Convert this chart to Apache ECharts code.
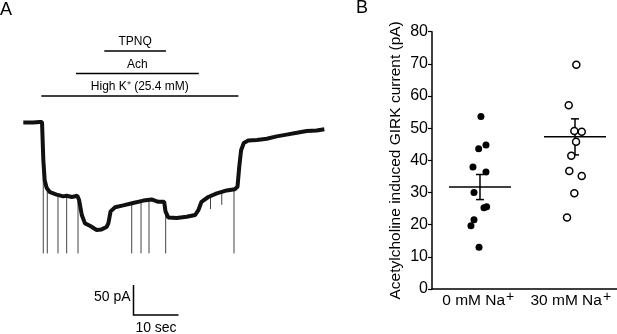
<!DOCTYPE html>
<html>
<head>
<meta charset="utf-8">
<script src="https://cdn.jsdelivr.net/npm/echarts@6/dist/echarts.min.js"></script>
<style>
  html, body { margin: 0; padding: 0; background: #fff; }
  #chart { width: 617px; height: 334px; }
</style>
</head>
<body>
<div id="chart"></div>
<script>
// ---- Panel A: current trace (time in s, current in pA relative to baseline)
const traceTime = [0, 2.2, 3.6, 3.9, 4.16, 4.45, 4.75, 5.2, 5.93, 7.4, 8.9, 9.6, 10.8, 12.0, 12.4, 13.0, 13.7, 14.8,
  16.3, 17.4, 18.5, 18.9, 19.4, 20.4, 22.2, 24.4, 26.7, 28.5, 30.0, 31.3, 31.6, 32.2, 34.1, 36.3, 38.2, 38.9, 39.6,
  41.1, 43.0, 45.2, 47.0, 47.6, 48.0, 48.4, 49.0, 50.0, 51.9, 54.1, 56.3, 58.5, 60.8, 63.0, 65.2, 66.9];
const traceCurrent = [-1, -1, 0, 3, 0, -63, -97, -110, -117, -121, -124, -123, -125, -123, -130, -155, -169, -173,
  -180, -179, -175, -169, -149, -142, -139, -135, -131, -129, -133, -133, -149, -159, -160, -158, -155, -147, -133,
  -125, -119, -114, -112, -108, -74, -47, -35, -31, -30, -28, -24, -21, -18, -15, -14, -12];

// stimulus artefacts
const artefactTime = [4.44, 5.33, 7.71, 9.64, 12.16, 24.09, 26.16, 27.93, 31.64, 41.6, 44.1, 46.82];
const artefactTop = [-60, -112, -121, -123, -124, -136, -132, -130, -150, -124, -117, -112];
const artefactBottom = [-219, -219, -219, -219, -219, -219, -219, -219, -219, -145, -138, -219];

// drug applications
const drugNames = ['High K\u207A (25.4 mM)', 'Ach', 'TPNQ'];
const drugStart = [4.0, 11.7, 18.0];
const drugEnd = [47.8, 39.0, 31.7];

const scaleSec = 10;
const scalePA = 50;

// ---- Panel B: scatter with mean +/- SEM
const categories = ['0 mM Na', '30 mM Na'];
const zeroNaX = [1.01, 0.986, 1.063, 0.926, 1.063, 0.937, 1.042, 1.07, 0.937, 0.905, 0.99];
const zeroNaY = [53.6, 43.6, 44.8, 37.9, 36.4, 30.0, 25.3, 25.6, 21.5, 19.7, 13.0];
const thirtyNaX = [2.014, 1.934, 1.993, 2.071, 2.011, 1.961, 1.94, 2.071, 1.993, 1.916];
const thirtyNaY = [69.7, 57.1, 49.1, 48.9, 45.8, 41.4, 36.7, 35.1, 29.8, 22.2];
const groupMean = [31.7, 47.3];
const groupSem = [3.9, 5.6];

const FONT = 'Liberation Sans, Arial, sans-serif';
const DRUG_ROW_Y = [96, 73.5, 51];
const SCALE_CORNER = [133.5, 315];

const chart = echarts.init(document.getElementById('chart'), null, { renderer: 'canvas' });

const option = {
  backgroundColor: '#fff',
  animation: false,
  textStyle: { fontFamily: FONT, color: '#000' },
  graphic: [
    { type: 'text', left: 0, top: 1, style: { text: 'A', fontSize: 18, fontFamily: FONT, fill: '#000' } },
    { type: 'text', left: 356, top: -1, style: { text: 'B', fontSize: 18, fontFamily: FONT, fill: '#000' } }
  ],
  grid: [
    { left: 23.3, top: 80, width: 301.5, height: 240 },
    { left: 432, top: 31.7, right: 0, bottom: 45 }
  ],
  xAxis: [
    { type: 'value', gridIndex: 0, min: 0, max: 67, show: false },
    {
      type: 'category', gridIndex: 1, data: categories, boundaryGap: true,
      axisLine: { lineStyle: { color: '#000', width: 1.5 } },
      axisTick: { show: false },
      axisLabel: {
        color: '#000', fontSize: 15.5, fontFamily: FONT, margin: 1, interval: 0, hideOverlap: false,
        formatter: v => v + '{sup|+}',
        rich: { sup: { fontSize: 14, fontFamily: FONT, color: '#000', padding: [0, 0, 8, 1] } }
      }
    },
    { type: 'value', gridIndex: 1, min: 0.495, max: 2.442, show: false }
  ],
  yAxis: [
    { type: 'value', gridIndex: 0, min: -330, max: 70, show: false },
    {
      type: 'value', gridIndex: 1, min: 0, max: 80, interval: 10,
      name: 'Acetylcholine induced GIRK current (pA)',
      nameLocation: 'middle', nameGap: 28,
      nameTextStyle: { fontSize: 15.5, fontFamily: FONT, color: '#000' },
      axisLine: { show: true, onZero: false, lineStyle: { color: '#000', width: 1.5 } },
      axisTick: { show: true, length: 4, lineStyle: { color: '#000', width: 1.2 } },
      axisLabel: { color: '#000', fontSize: 16, fontFamily: FONT, margin: 4 },
      splitLine: { show: false }
    }
  ],
  series: [
    {
      type: 'custom', xAxisIndex: 0, yAxisIndex: 0,
      data: artefactTime.map((t, i) => [t, artefactTop[i], artefactBottom[i]]),
      renderItem: (params, api) => {
        const p0 = api.coord([api.value(0), api.value(1)]);
        const p1 = api.coord([api.value(0), api.value(2)]);
        return { type: 'line', shape: { x1: p0[0], y1: p0[1], x2: p1[0], y2: p1[1] },
          style: { stroke: '#444', lineWidth: 1 } };
      }
    },
    {
      type: 'line', xAxisIndex: 0, yAxisIndex: 0,
      data: traceTime.map((t, i) => [t, traceCurrent[i]]),
      symbol: 'none', lineStyle: { color: '#111', width: 4 }
    },
    {
      type: 'custom', xAxisIndex: 0, yAxisIndex: 0,
      data: drugStart.map((s, i) => [s, drugEnd[i], i]),
      renderItem: (params, api) => {
        const x0 = api.coord([api.value(0), 0])[0];
        const x1 = api.coord([api.value(1), 0])[0];
        const y = DRUG_ROW_Y[api.value(2)];
        return {
          type: 'group',
          children: [
            { type: 'line', shape: { x1: x0, y1: y, x2: x1, y2: y }, style: { stroke: '#000', lineWidth: 1.5 } },
            { type: 'text', x: (x0 + x1) / 2, y: y - 9,
              style: { text: drugNames[params.dataIndex], align: 'center', verticalAlign: 'middle',
                fontSize: 12, fontFamily: FONT, fill: '#000' } }
          ]
        };
      }
    },
    {
      type: 'custom', xAxisIndex: 0, yAxisIndex: 0,
      data: [[0, 0]],
      renderItem: (params, api) => {
        const sz = api.size([scaleSec, scalePA]);
        const [cx, cy] = SCALE_CORNER;
        return {
          type: 'group',
          children: [
            { type: 'polyline', shape: { points: [[cx, cy - sz[1]], [cx, cy], [cx + sz[0], cy]] },
              style: { stroke: '#000', lineWidth: 1.5, fill: null } },
            { type: 'text', x: cx - 3, y: cy - 18,
              style: { text: scalePA + ' pA', align: 'right', verticalAlign: 'middle', fontSize: 14, fontFamily: FONT, fill: '#000' } },
            { type: 'text', x: cx + sz[0] / 2, y: cy + 13,
              style: { text: scaleSec + ' sec', align: 'center', verticalAlign: 'middle', fontSize: 14, fontFamily: FONT, fill: '#000' } }
          ]
        };
      }
    },
    {
      type: 'scatter', xAxisIndex: 2, yAxisIndex: 1,
      data: zeroNaX.map((x, i) => [x, zeroNaY[i]]),
      symbolSize: 7, itemStyle: { color: '#000', opacity: 1 }
    },
    {
      type: 'scatter', xAxisIndex: 2, yAxisIndex: 1,
      data: thirtyNaX.map((x, i) => [x, thirtyNaY[i]]),
      symbolSize: 7, itemStyle: { color: '#fff', borderColor: '#000', borderWidth: 1.5, opacity: 1 }
    },
    {
      type: 'custom', xAxisIndex: 2, yAxisIndex: 1,
      data: groupMean.map((m, i) => [i + 1, m, groupSem[i]]),
      renderItem: (params, api) => {
        const x = api.value(0), m = api.value(1), s = api.value(2);
        const c = api.coord([x, m]);
        const top = api.coord([x, m + s]);
        const bot = api.coord([x, m - s]);
        const st = { stroke: '#000', lineWidth: 1.5 };
        return {
          type: 'group',
          children: [
            { type: 'line', shape: { x1: c[0] - 31, y1: c[1], x2: c[0] + 31, y2: c[1] }, style: st },
            { type: 'line', shape: { x1: c[0], y1: top[1], x2: c[0], y2: bot[1] }, style: st },
            { type: 'line', shape: { x1: c[0] - 4, y1: top[1], x2: c[0] + 4, y2: top[1] }, style: st },
            { type: 'line', shape: { x1: c[0] - 4, y1: bot[1], x2: c[0] + 4, y2: bot[1] }, style: st }
          ]
        };
      }
    }
  ]
};

chart.setOption(option);
window.addEventListener('resize', () => chart.resize());
</script>
</body>
</html>
